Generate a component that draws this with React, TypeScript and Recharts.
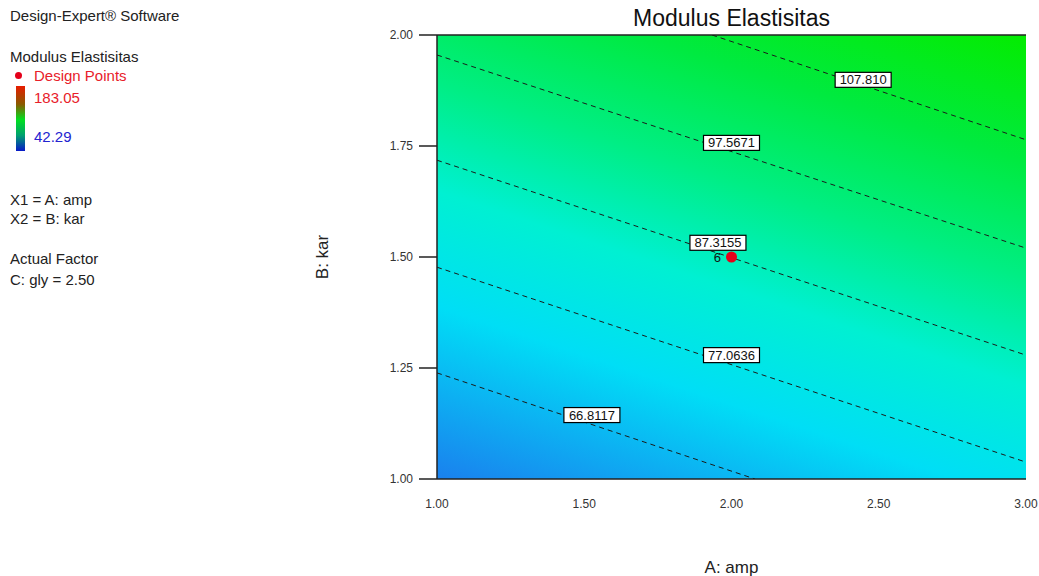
import React from "react";
import {
  ComposedChart,
  Line,
  Scatter,
  XAxis,
  YAxis,
  ReferenceArea,
  ReferenceLine,
  LabelList,
} from "recharts";

// axis ticks (A: amp, B: kar)
const xTicks = [1, 1.5, 2, 2.5, 3];
const yTicks = [1, 1.25, 1.5, 1.75, 2];

// contour levels and the lines (A, B)
const contourLevels = ["66.8117", "77.0636", "87.3155", "97.5671", "107.810"];
const contour66 = [{ a: 1, b: 1.239 }, { a: 2.08, b: 1 }];
const contour77 = [{ a: 1, b: 1.477 }, { a: 3, b: 1.038 }];
const contour87 = [{ a: 1, b: 1.718 }, { a: 3, b: 1.279 }];
const contour97 = [{ a: 1, b: 1.955 }, { a: 3, b: 1.52 }];
const contour107 = [{ a: 1.934, b: 2 }, { a: 3, b: 1.764 }];
const contours = [contour66, contour77, contour87, contour97, contour107];

// where the level tags sit
const tagA = [1.526, 2.0, 1.954, 2.0, 2.447];
const tagB = [1.144, 1.279, 1.532, 1.757, 1.899];

const designPoints = [{ a: 2, b: 1.5, runs: 6 }];

const tags = contourLevels.map((text, i) => ({ a: tagA[i], b: tagB[i], text }));

const FONT = '"Liberation Sans", Arial, Helvetica, sans-serif';

const ContourTag = (props: any) => {
  const { cx, cy, payload } = props;
  const w = 56;
  const h = 15;
  return (
    <g>
      <rect x={cx - w / 2} y={cy - h / 2} width={w} height={h} fill="#fff" stroke="#000" strokeWidth={1.2} />
      <text x={cx} y={cy + 4.5} textAnchor="middle" fontSize={13} fill="#111" fontFamily={FONT}>
        {payload.text}
      </text>
    </g>
  );
};

const RedDot = (props: any) => <circle cx={props.cx} cy={props.cy} r={5.5} fill="#e4001a" />;

const side = (top: number, text: string, color = "#222", left = 10) => (
  <div
    style={{
      position: "absolute",
      left,
      top: top - 9,
      lineHeight: "18px",
      fontSize: 15,
      color,
      whiteSpace: "nowrap",
    }}
  >
    {text}
  </div>
);

export default function App() {
  return (
    <div
      style={{
        position: "absolute",
        left: 0,
        top: 0,
        width: 1039,
        height: 576,
        background: "#fff",
        fontFamily: FONT,
      }}
    >
      {side(16, "Design-Expert® Software")}
      {side(57, "Modulus Elastisitas")}
      <div
        style={{
          position: "absolute",
          left: 15,
          top: 72,
          width: 7,
          height: 7,
          borderRadius: "50%",
          background: "#e4001a",
        }}
      />
      {side(76, "Design Points", "#e8202a", 34)}
      <div
        style={{
          position: "absolute",
          left: 16,
          top: 86,
          width: 9,
          height: 65,
          background:
            "linear-gradient(to bottom, #e81c00 0%, #8a5a00 28%, #00e020 52%, #00a070 76%, #0818c8 100%)",
        }}
      />
      {side(98, "183.05", "#e8202a", 34)}
      {side(137, "42.29", "#2424d0", 34)}
      {side(200, "X1 = A: amp")}
      {side(219, "X2 = B: kar")}
      {side(259, "Actual Factor")}
      {side(280, "C: gly = 2.50")}

      <div
        style={{
          position: "absolute",
          left: 437,
          width: 589,
          top: 4,
          textAlign: "center",
          fontSize: 23,
          lineHeight: "28px",
          color: "#111",
        }}
      >
        Modulus Elastisitas
      </div>

      <div style={{ position: "absolute", left: 0, top: 0 }}>
        <ComposedChart
          width={1039}
          height={576}
          margin={{ top: 35, right: 13, bottom: 0, left: 207 }}
        >
          <defs>
            <linearGradient id="resp" x1="0" y1="1" x2="0.531" y2="-0.206">
              <stop offset="0%" stopColor="#1a80ee" />
              <stop offset="27%" stopColor="#00def6" />
              <stop offset="45%" stopColor="#00f0d2" />
              <stop offset="62%" stopColor="#00ee84" />
              <stop offset="80%" stopColor="#00ea40" />
              <stop offset="100%" stopColor="#04ec00" />
            </linearGradient>
          </defs>
          <XAxis
            type="number"
            dataKey="a"
            domain={[1, 3]}
            ticks={xTicks}
            tickFormatter={(v: number) => v.toFixed(2)}
            height={97}
            tickLine={false}
            tickSize={0}
            tickMargin={20}
            axisLine={{ stroke: "#222", strokeWidth: 1.5 }}
            tick={{ fontSize: 12, fill: "#333", fontFamily: FONT }}
            allowDataOverflow
            label={{
              value: "A: amp",
              position: "insideBottom",
              offset: 3,
              fontSize: 17,
              fill: "#222",
              fontFamily: FONT,
            }}
          />
          <YAxis
            type="number"
            dataKey="b"
            domain={[1, 2]}
            ticks={yTicks}
            tickFormatter={(v: number) => v.toFixed(2)}
            width={230}
            tickSize={18}
            tickMargin={6}
            tickLine={{ stroke: "#222", strokeWidth: 1.5 }}
            axisLine={{ stroke: "#222", strokeWidth: 1.5 }}
            tick={{ fontSize: 12, fill: "#333", fontFamily: FONT }}
            allowDataOverflow
            label={{
              value: "B: kar",
              angle: -90,
              position: "center",
              fontSize: 17,
              fill: "#222",
              fontFamily: FONT,
            }}
          />
          <ReferenceArea x1={1} x2={3} y1={1} y2={2} fill="url(#resp)" fillOpacity={1} stroke="none" />
          <ReferenceLine y={2} stroke="#222" strokeWidth={1.5} />
          {contours.map((pts, i) => (
            <Line
              key={contourLevels[i]}
              data={pts}
              dataKey="b"
              type="linear"
              stroke="#1a1a1a"
              strokeWidth={1}
              strokeDasharray="5 4"
              dot={false}
              activeDot={false}
              isAnimationActive={false}
            />
          ))}
          <Scatter data={tags} dataKey="b" shape={ContourTag} isAnimationActive={false} />
          <Scatter data={designPoints} dataKey="b" shape={RedDot} isAnimationActive={false}>
            <LabelList
              dataKey="runs"
              position="left"
              offset={6}
              fontSize={13}
              fill="#111"
              fontFamily={FONT}
            />
          </Scatter>
        </ComposedChart>
      </div>
    </div>
  );
}
